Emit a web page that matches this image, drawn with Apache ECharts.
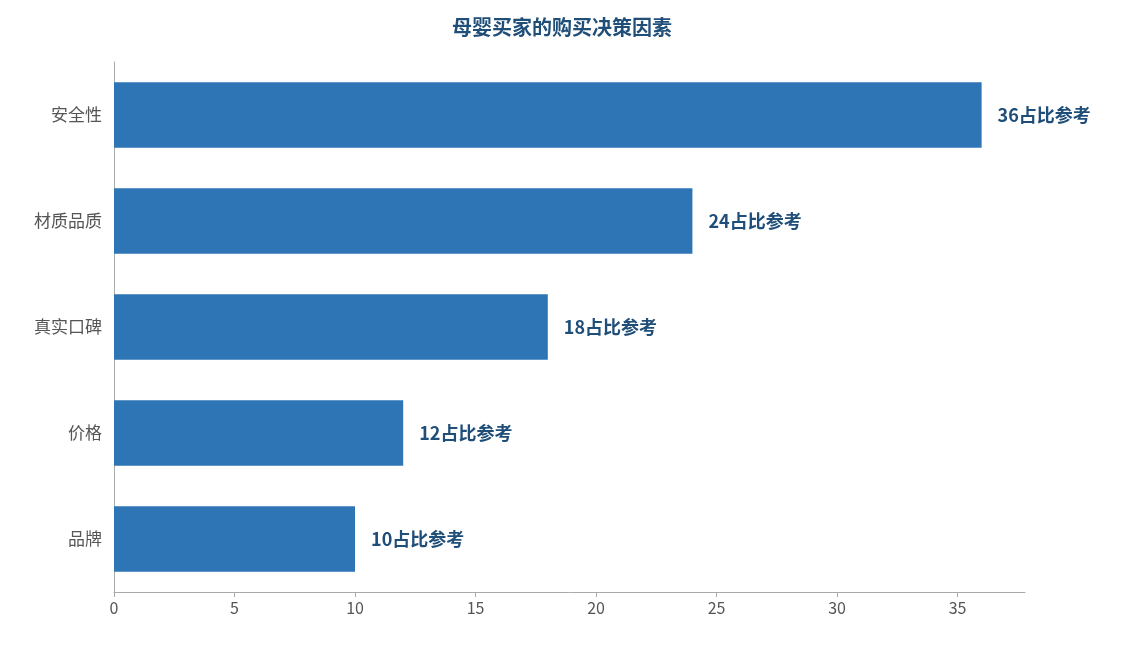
<!DOCTYPE html>
<html><head><meta charset="utf-8">
<script src="https://cdn.jsdelivr.net/npm/echarts@6/dist/echarts.min.js"></script>
<style>html,body{margin:0;padding:0}#c{width:1124px;height:645px}</style>
</head><body><div id="c"></div>
<script>
const categories = ['品牌','价格','真实口碑','材质品质','安全性'];
const values = [10,12,18,24,36];
const labelSuffix = '占比参考';
const chart = echarts.init(document.getElementById('c'));
chart.setOption({
  title:{text:'母婴买家的购买决策因素',left:'center',top:12,textStyle:{fontFamily:'Noto Sans CJK SC',fontSize:20,fontWeight:'bold',color:'#1f4e79'}},
  grid:{left:114,right:99,top:62,bottom:53},
  xAxis:{type:'value',min:0,max:37.8,interval:5,splitLine:{show:false},
    axisLine:{show:true,lineStyle:{color:'#aaa'}},axisTick:{show:true,lineStyle:{color:'#aaa'}},
    axisLabel:{color:'#555',fontSize:16,fontFamily:'Noto Sans CJK SC',showMaxLabel:false}},
  yAxis:{type:'category',data:categories,axisLine:{lineStyle:{color:'#aaa'}},axisTick:{alignWithLabel:true,lineStyle:{color:'#aaa'}},
    axisLabel:{color:'#555',fontSize:17,fontFamily:'Noto Sans CJK SC',margin:12}},
  series:[{type:'bar',data:values,barWidth:'62%',itemStyle:{color:'#2e75b6'},
    label:{show:true,position:'right',distance:16,formatter:p=>p.value+labelSuffix,
      color:'#1f4e79',fontWeight:'bold',fontSize:18,fontFamily:'Noto Sans CJK SC'}}]
});
</script></body></html>
